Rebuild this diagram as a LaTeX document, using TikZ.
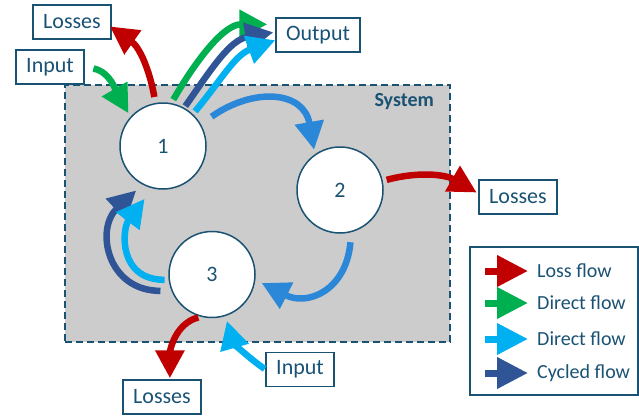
\documentclass[tikz,border=0pt]{standalone}
\usepackage{fontspec}
\setmainfont{Carlito}
\usetikzlibrary{arrows.meta}
\definecolor{tealtxt}{HTML}{1A5274}
\definecolor{lossred}{HTML}{C00000}
\definecolor{dirgreen}{HTML}{00B050}
\definecolor{dirblue}{HTML}{00B0F0}
\definecolor{cycblue}{HTML}{2F5597}
\definecolor{midblue}{HTML}{2B88D8}
\definecolor{sysgray}{HTML}{CCCCCC}
\tikzset{
  stage/.style={circle,draw=tealtxt,line width=1.5pt,fill=white,minimum size=86pt,
    inner sep=0pt,text=tealtxt,font=\fontsize{22}{26}\selectfont},
  tag/.style={draw=tealtxt,line width=1.5pt,fill=white,text=tealtxt,minimum height=34pt,
    inner xsep=10pt,font=\fontsize{22}{26}\selectfont},
  flow/.style={line width=6.5pt,-{Triangle[width=28pt,length=28pt]}},
  legflow/.style={line width=7pt,-{Triangle[width=30pt,length=31pt]}},
  legtext/.style={anchor=west,inner sep=0pt,text=tealtxt,font=\fontsize{20}{24}\selectfont},
}
\begin{document}
\begin{tikzpicture}[x=1pt,y=1pt]
\useasboundingbox (0,0) rectangle (639,-415);
% system
\node[draw=tealtxt,dash pattern=on 7pt off 4pt,line width=1.5pt,fill=sysgray,
  minimum width=385pt,minimum height=257pt,inner sep=0pt] (sys) at (257.5,-213.5) {};
\node[anchor=east,inner sep=0pt,text=tealtxt,font=\bfseries\fontsize{20}{24}\selectfont]
  (syslbl) at (434,-102) {System};
\node[stage] (c1) at (163,-146) {1};
\node[stage] (c2) at (340,-190) {2};
\node[stage] (c3) at (212,-274.5) {3};
% in and out boxes
\node[tag] (lossA) at (72,-22) {Losses};
\node[tag] (inA) at (50,-67) {Input};
\node[tag] (outA) at (318,-35) {Output};
\node[tag] (lossB) at (518,-197) {Losses};
\node[tag] (inB) at (300,-369.5) {Input};
\node[tag] (lossC) at (162,-397) {Losses};
% flows round 1
\draw[flow,dirgreen,shorten <=9pt,shorten >=4pt] (inA.east) to[out=-10,in=120] (c1.138);
\draw[flow,lossred,shorten <=6pt,shorten >=-2pt] (c1.100) to[out=100,in=-35] (lossA.-8);
\draw[flow,dirgreen,shorten <=4pt,shorten >=8pt] (c1.79) to[out=60,in=180] (outA.166);
\draw[flow,cycblue,shorten <=2pt,shorten >=2pt] (c1.61) to[out=55,in=190] (outA.176);
\draw[flow,dirblue,shorten <=3.5pt] (c1.47) to[out=50,in=200] (outA.187);
% cycle 1 -> 2 -> 3 -> 1
\draw[flow,midblue,shorten <=13pt,shorten >=4.5pt] (c1.30) to[out=35,in=100,looseness=1.4] (c2.125);
\draw[flow,lossred,shorten <=4pt,shorten >=2pt] (c2.12) to[out=15,in=150] (lossB.175);
\draw[flow,midblue,shorten <=10pt,shorten >=7pt] (c2.-75) to[out=-95,in=-27,looseness=1.4] (c3.-7);
\draw[flow,cycblue,shorten <=11pt,shorten >=8.5pt] (c3.202) to[out=180,in=-137,looseness=1.5] (c1.242);
\draw[flow,dirblue,shorten <=4pt,shorten >=13pt] (c3.187) to[out=180,in=-127,looseness=1.4] (c1.256);
\draw[flow,lossred,shorten <=2.5pt,shorten >=1pt] (c3.255) to[out=195,in=90] (lossC.66);
\draw[flow,dirblue,shorten <=1pt,shorten >=5pt] (inB.west) to[out=145,in=-74] (c3.-72);
% legend
\node[draw=tealtxt,line width=1.5pt,minimum width=168pt,minimum height=148pt,inner sep=0pt]
  (legend) at (554,-321) {};
\foreach \col/\txt/\yy/\nm in {lossred/Loss flow/271/lg1,dirgreen/Direct flow/303/lg2,
    dirblue/Direct flow/339/lg3,cycblue/Cycled flow/373/lg4} {
  \node[legtext] (\nm) at (537,-\yy) {\txt};
  \draw[legflow,\col] ([xshift=-52pt]\nm.west) -- ([xshift=-9pt]\nm.west);
}
\end{tikzpicture}
\end{document}
